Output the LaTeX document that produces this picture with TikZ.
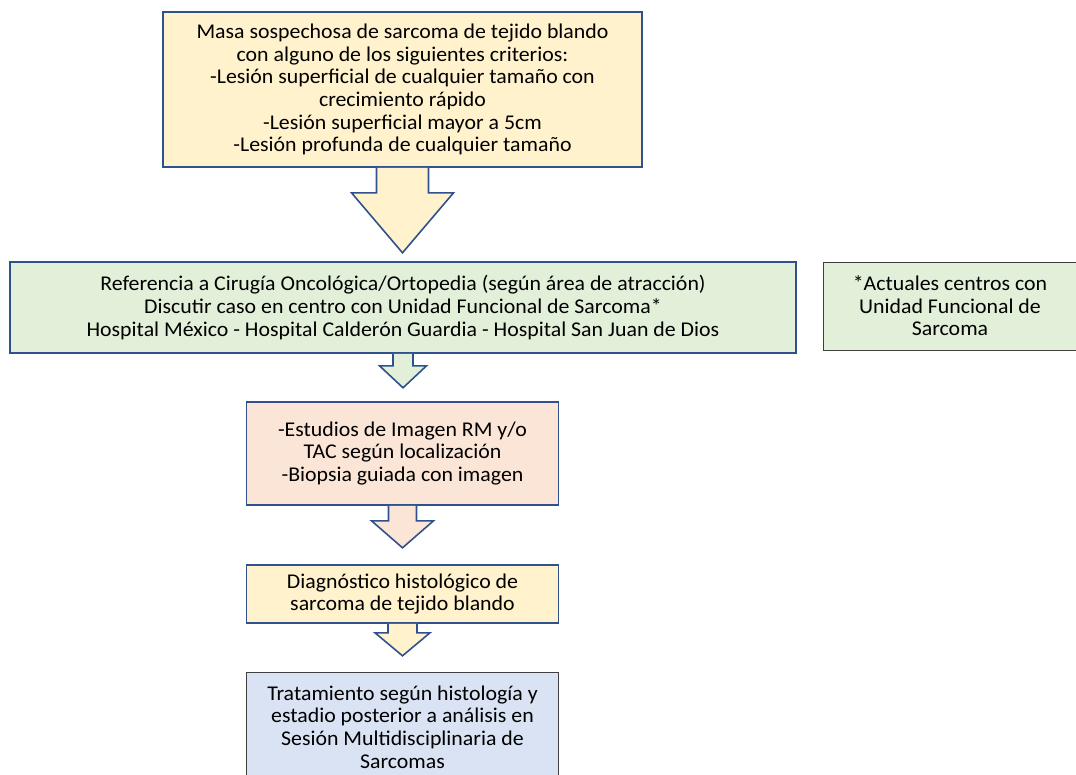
\documentclass[tikz,border=0pt]{standalone}
\usepackage{fontspec}
\setmainfont{Carlito}[FakeStretch=1.04]
\usepackage{tikz}
\usetikzlibrary{positioning,shapes,arrows.meta,calc}

\definecolor{boxblue}{HTML}{2F528F}
\definecolor{boxgray}{HTML}{3F3F3F}
\definecolor{fillyellow}{HTML}{FFF2CC}
\definecolor{fillgreen}{HTML}{E2F0D9}
\definecolor{fillpeach}{HTML}{FBE5D6}
\definecolor{fillblue}{HTML}{DAE3F3}

\tikzset{
  flowbox/.style={draw=boxblue, line width=1.6pt, align=center, inner sep=0pt,
    font=\fontsize{21}{22.6}\selectfont},
  notebox/.style={flowbox, draw=boxgray, line width=1pt},
  blockline/.style={draw=boxblue, line width=1.6pt, line join=miter}
}

% block arrow below a node: node, shaft half width, shaft length, head half width, head length, fill
\newcommand{\blockarrow}[6]{%
  \filldraw[blockline, fill=#6] ($(#1.south)+(-#2,0)$) -- ++(0,-#3) -- ++({#2-#4},0)
    -- ++(#4,-#5) -- ++(#4,#5) -- ++({#2-#4},0) -- ++(0,#3);
}

\begin{document}
\begin{tikzpicture}[x=1pt,y=1pt]
  \useasboundingbox (0,0) rectangle (1076,-774);
  \clip (0,0) rectangle (1076,-774);

  \node[flowbox, fill=fillyellow, minimum width=479pt, minimum height=155pt] (masa) at (402.5,-89.5)
    {Masa sospechosa de sarcoma de tejido blando\\
     con alguno de los siguientes criterios:\\
     -Lesión superficial de cualquier tamaño con\\
     crecimiento rápido\\
     -Lesión superficial mayor a 5cm\\
     -Lesión profunda de cualquier tamaño};

  \node[flowbox, fill=fillgreen, minimum width=786pt, minimum height=91pt] (referencia) at (403,-307.5)
    {Referencia a Cirugía Oncológica/Ortopedia (según área de atracción)\\
     Discutir caso en centro con Unidad Funcional de Sarcoma*\\
     Hospital México - Hospital Calderón Guardia - Hospital San Juan de Dios};

  \node[notebox, fill=fillgreen, minimum width=253pt, minimum height=88pt] (centros) at (950,-306)
    {*Actuales centros con\\ Unidad Funcional de\\ Sarcoma};

  \node[flowbox, fill=fillpeach, minimum width=312pt, minimum height=103pt] (estudios) at (402.5,-453.5)
    {-Estudios de Imagen RM y/o\\ TAC según localización\\ -Biopsia guiada con imagen};

  \node[flowbox, fill=fillyellow, minimum width=312pt, minimum height=58pt] (diagnostico) at (402.5,-594)
    {Diagnóstico histológico de\\ sarcoma de tejido blando};

  \node[notebox, fill=fillblue, minimum width=312pt, minimum height=110pt] (tratamiento) at (402.5,-727)
    {Tratamiento según histología y\\ estadio posterior a análisis en\\ Sesión Multidisciplinaria de\\ Sarcomas};

  % flechas de bloque
  \blockarrow{masa}{26}{25}{51}{60}{fillyellow}
  \blockarrow{referencia}{10}{12}{23.5}{22}{fillgreen}
  \blockarrow{estudios}{14}{15}{31}{27}{fillpeach}
  \blockarrow{diagnostico}{14.5}{9}{27.5}{23}{fillyellow}
\end{tikzpicture}
\end{document}
